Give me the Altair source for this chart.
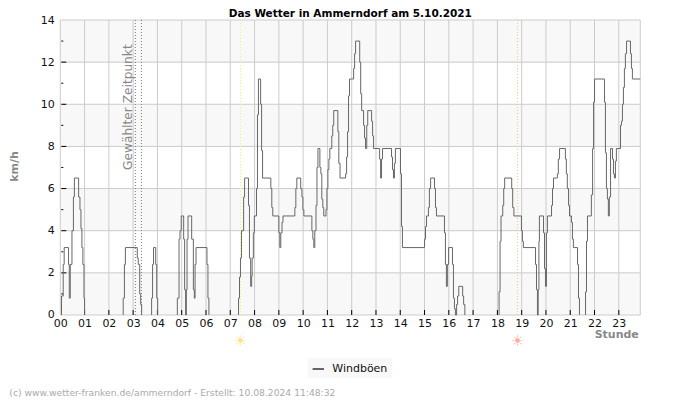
import altair as alt
import pandas as pd

hours = [
 0.05,0.05,0.12,0.16,0.34,0.37,0.41,0.48,0.54,0.58,0.755,0.81,0.85,0.89,0.93,0.975,1.0,1.01,
 2.59,2.59,2.64,2.68,3.17,3.21,3.27,3.31,3.35,3.36,
 3.76,3.76,3.80,3.84,3.93,3.97,4.01,4.02,
 4.82,4.82,4.89,4.93,4.98,5.08,5.12,5.16,5.19,5.22,5.26,5.41,5.48,5.52,5.55,5.59,6.04,6.08,6.12,6.13,
 7.34,7.34,7.38,7.42,7.46,7.55,7.59,7.75,7.79,7.84,7.88,7.90,7.95,7.99,8.08,8.12,8.16,8.25,8.29,8.33,8.67,8.71,8.75,
 9.0,9.04,9.08,9.13,9.17,9.66,9.7,9.74,9.9,9.95,9.99,10.03,10.36,10.4,10.44,10.48,10.53,10.57,10.61,10.69,10.73,10.77,10.81,10.85,10.94,10.98,
 11.02,11.06,11.1,11.18,11.22,11.26,11.43,11.47,11.52,11.75,11.79,11.83,11.87,11.91,12.08,12.12,12.16,12.33,12.37,12.41,12.49,12.53,12.57,12.62,12.66,12.82,12.86,12.9,
 13.15,13.19,13.23,13.27,13.64,13.68,13.72,13.76,13.8,14.01,14.05,14.09,15.0,15.04,15.08,15.16,15.2,15.25,15.41,15.45,15.49,15.82,15.86,15.9,15.94,15.99,
 16.15,16.19,16.23,16.27,16.32,16.36,16.41,16.57,16.61,16.66,16.67,
 18.07,18.07,18.11,18.15,18.22,18.26,18.3,18.59,18.63,18.68,18.99,19.03,19.07,19.57,19.61,19.65,19.68,19.71,19.73,19.9,19.94,19.98,20.02,20.06,20.23,20.27,20.31,20.47,20.51,20.56,20.8,20.84,20.88,20.93,20.97,21.05,21.09,21.13,21.3,21.34,21.38,21.39,
 21.63,21.63,21.67,21.71,21.87,21.92,21.96,22.0,22.41,22.45,22.49,22.53,22.57,22.61,22.66,22.74,22.78,22.82,22.86,22.9,23.07,23.11,23.15,23.19,23.23,23.27,23.32,23.48,23.52,23.56,23.88,
]
gusts = [
 0,0.9,2.4,3.2,2.4,0.8,2.4,4.0,5.6,6.5,5.6,5.0,4.1,3.2,2.4,0.8,0,None,
 0,0.8,2.4,3.2,2.7,2.4,1.0,0.5,0,None,
 0,0.8,2.4,3.2,2.4,0.8,0,None,
 0,0.8,3.6,4.0,4.7,3.6,1.2,0,1.2,3.6,4.7,3.6,1.2,0.8,2.4,3.2,2.4,0.8,0,None,
 0,0.8,1.8,2.7,4.0,5.6,6.5,5.2,2.7,1.36,1.84,2.7,3.9,4.7,6.0,9.5,11.2,10.0,7.8,6.5,6.0,5.1,4.7,
 3.9,3.2,3.9,4.4,4.7,5.1,6.0,6.5,6.0,5.6,5.0,4.7,4.0,3.6,3.2,4.0,5.2,7.0,7.9,7.0,6.7,5.5,5.1,4.7,5.0,6.0,
 6.9,7.4,7.9,8.5,9.0,9.7,8.7,7.2,6.5,6.7,7.5,8.7,10.4,11.2,11.7,12.4,13.0,12.0,10.5,9.7,9.0,8.4,7.9,9.0,9.7,9.2,8.5,7.9,
 7.4,6.5,7.4,7.9,7.5,6.9,6.5,7.2,7.9,6.7,4.2,3.2,3.6,4.2,4.7,5.1,6.0,6.5,6.0,5.1,4.7,3.9,2.4,1.36,2.4,3.2,
 2.4,0.8,0.3,0,0.5,0.9,1.36,0.9,0.5,0,None,
 0,1.1,3.5,4.7,5.2,6.0,6.5,6.0,5.1,4.7,4.0,3.5,3.2,2.4,1.2,0,1.2,3.5,4.7,3.9,2.2,1.36,3.9,4.7,5.2,6.0,6.5,6.7,7.4,7.9,7.4,6.7,6.0,5.2,4.7,4.4,3.6,3.2,2.4,0.8,0,None,
 0,1.1,3.5,4.7,5.7,7.9,10.1,11.2,10.1,7.7,6.0,5.5,4.7,5.6,7.9,7.4,6.7,6.5,7.3,7.9,9.0,9.2,10.0,10.8,11.7,12.4,13.0,12.4,11.7,11.2,11.2,
]
series_name = "Windböen"
hour_ticks = list(range(24))
x_end = 23.885
y_major = [0, 2, 4, 6, 8, 10, 12, 14]
y_minor = [1, 3, 5, 7, 9, 11, 13]
band_low = [0, 4, 8, 12]
band_high = [2, 6, 10, 14]
selected_hours = [3.09, 3.34]
sunrise_hour = 7.42
sunset_hour = 18.83

GRID = "#cccccc"
FONT = "DejaVu Sans"
x_scale = alt.Scale(domain=[0, x_end], nice=False, zero=False)
y_scale = alt.Scale(domain=[0, 14], nice=False)
x_axis = alt.Axis(values=hour_ticks, format="02d", grid=False, ticks=False, domain=False,
                  labelFontSize=11, labelColor="#111111", labelPadding=3, labelFont=FONT,
                  labelFlush=False, labelOverlap=False,
                  title="Stunde", titleFontSize=11, titleColor="#888888", titleFont=FONT,
                  titleFontWeight="bold", titleAlign="right", titleBaseline="middle",
                  titleAnchor="end", titleX=578, titleY=20)
y_axis = alt.Axis(values=y_major, grid=False, ticks=False, domain=False,
                  labelFontSize=11, labelColor="#111111", labelPadding=6, labelFont=FONT,
                  labelFlush=False, labelOverlap=False,
                  title="km/h", titleFontSize=11, titleColor="#888888", titleFont=FONT,
                  titleFontWeight="bold", titleX=-41, titleY=146)


def X(field):
    return alt.X(field, scale=x_scale, axis=x_axis)


def Y(field):
    return alt.Y(field, scale=y_scale, axis=y_axis)


line_df = pd.DataFrame({"h": hours, "v": gusts, "s": series_name})
band_df = pd.DataFrame({"a": band_low, "b": band_high})
vgrid_df = pd.DataFrame({"h": hour_ticks + [x_end]})
hgrid_df = pd.DataFrame({"v": y_major})

bands = alt.Chart(band_df).mark_rect(color="#f8f8f8").encode(y=Y("a:Q"), y2="b:Q")
vgrid = alt.Chart(vgrid_df).mark_rule(color=GRID, strokeWidth=1).encode(x=X("h:Q"))
hgrid = alt.Chart(hgrid_df).mark_rule(color=GRID, strokeWidth=1).encode(y=Y("v:Q"))

xticks = alt.Chart(pd.DataFrame({"h": hour_ticks[1:]})).mark_rule(color="black", strokeWidth=1).encode(
    x=X("h:Q"), y=alt.value(290), y2=alt.value(295))
ymaj = alt.Chart(pd.DataFrame({"v": y_major[1:-1]})).mark_rule(color="black", strokeWidth=1).encode(
    y=Y("v:Q"), x=alt.value(1), x2=alt.value(6))
ymin = alt.Chart(pd.DataFrame({"v": y_minor})).mark_rule(color="black", strokeWidth=1).encode(
    y=Y("v:Q"), x=alt.value(1), x2=alt.value(3))

selected = alt.Chart(pd.DataFrame({"h": selected_hours})).mark_rule(
    color="#777777", strokeWidth=1, strokeDash=[1, 2]).encode(x=X("h:Q"))
sunrise = alt.Chart(pd.DataFrame({"h": [sunrise_hour]})).mark_rule(
    color="#ffee66", strokeWidth=1, strokeDash=[1, 2]).encode(x=X("h:Q"))
sunset = alt.Chart(pd.DataFrame({"h": [sunset_hour]})).mark_rule(
    color="#f5c87a", strokeWidth=1, strokeDash=[1, 2]).encode(x=X("h:Q"))

line = alt.Chart(line_df).mark_line(interpolate="step-after", strokeWidth=1).encode(
    x=X("h:Q"),
    y=Y("v:Q"),
    color=alt.Color("s:N", scale=alt.Scale(domain=[series_name], range=["#666666"]),
                    legend=alt.Legend(title=None, orient="none", legendX=247, legendY=338,
                                      fillColor="#f8f8f8", padding=4, symbolType="stroke",
                                      symbolStrokeWidth=2, symbolSize=130, labelFontSize=11,
                                      labelFont=FONT, labelColor="#111111", labelOffset=7)),
)

zeit = alt.Chart(pd.DataFrame({"h": [selected_hours[0]], "t": ["Gewählter Zeitpunkt"]})).mark_text(
    angle=270, align="left", baseline="bottom", fontSize=12.2, font=FONT, color="#888888", dy=0
).encode(x=X("h:Q"), y=alt.value(150), text="t:N")

suns = alt.Chart(pd.DataFrame({"h": [sunrise_hour, sunset_hour], "c": ["#ffe27a", "#ffaa99"], "t": ["☀", "☀"]})).mark_text(
    fontSize=15, font=FONT, baseline="middle"
).encode(x=X("h:Q"), y=alt.value(321),
         text="t:N", color=alt.Color("c:N", scale=None, legend=None))

footer = alt.Chart(pd.DataFrame({"t": ["(c) www.wetter-franken.de/ammerndorf - Erstellt: 10.08.2024 11:48:32"]})).mark_text(
    align="left", baseline="middle", fontSize=9.2, font=FONT, color="#aaaaaa"
).encode(x=alt.value(-51), y=alt.value(373), text="t:N")

chart = alt.layer(
    bands, vgrid, hgrid, xticks, ymaj, ymin, selected, sunrise, sunset, line, zeit, suns, footer
).resolve_scale(color="independent").properties(
    width=580, height=295,
    title=alt.TitleParams("Das Wetter in Ammerndorf am 5.10.2021", font=FONT, fontSize=10.5,
                          fontWeight="bold", color="black", anchor="middle", offset=-5),
    padding={"left": 52.3, "top": 12, "right": 50, "bottom": 82},
    autosize=alt.AutoSizeParams(type="none"),
).configure_view(stroke=None)

chart.save("out.html", embed_options={"renderer": "svg", "actions": False})
